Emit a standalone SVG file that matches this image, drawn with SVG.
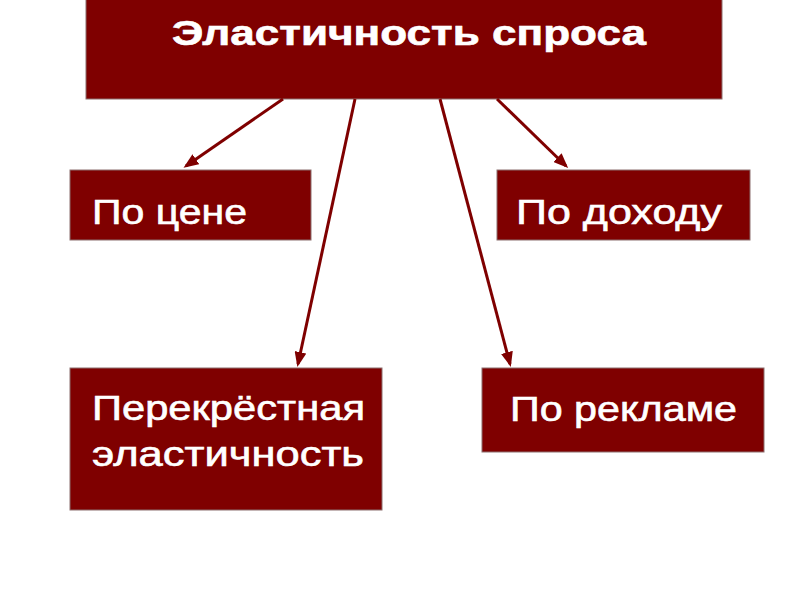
<svg xmlns="http://www.w3.org/2000/svg" width="794" height="595" viewBox="0 0 794 595">
<style>
.box{fill:#7f0000;stroke:#8c6f6f;stroke-width:1}
.t{fill:#fff;font-family:"Liberation Sans",Arial,sans-serif;font-size:35px;stroke:#fff;stroke-width:0.6}
.c{stroke:#7f0000;stroke-width:3;fill:none;marker-end:url(#a)}
</style>
<defs><marker id="a" markerWidth="5" markerHeight="4" refX="4" refY="2" orient="auto" markerUnits="strokeWidth"><path d="M0,0L5,2L0,4z" fill="#7f0000"/></marker></defs>
<rect width="794" height="595" fill="#fff"/>
<g id="top"><rect class="box" x="86" y="-1" width="636" height="100"/><text class="t" x="172" y="45" font-weight="bold" font-size="40" stroke-width="0" textLength="474" lengthAdjust="spacingAndGlyphs">Эластичность спроса</text></g>
<g id="price"><rect class="box" x="70" y="170" width="241" height="70"/><text class="t" x="92" y="224" textLength="155" lengthAdjust="spacingAndGlyphs">По цене</text></g>
<g id="income"><rect class="box" x="497" y="170" width="253" height="70"/><text class="t" x="516" y="224" textLength="206" lengthAdjust="spacingAndGlyphs">По доходу</text></g>
<g id="cross"><rect class="box" x="70" y="368" width="312" height="142"/><text class="t" x="92" y="420" textLength="273" lengthAdjust="spacingAndGlyphs">Перекрёстная</text><text class="t" x="92" y="466" textLength="272" lengthAdjust="spacingAndGlyphs">эластичность</text></g>
<g id="adv"><rect class="box" x="482" y="368" width="282" height="84"/><text class="t" x="510" y="421" textLength="227" lengthAdjust="spacingAndGlyphs">По рекламе</text></g>
<g id="connectors">
<line class="c" x1="283" y1="99" x2="186" y2="166"/>
<line class="c" x1="355" y1="99" x2="298" y2="364"/>
<line class="c" x1="440" y1="99" x2="510" y2="364"/>
<line class="c" x1="497" y1="99" x2="566" y2="166"/>
</g>
</svg>
